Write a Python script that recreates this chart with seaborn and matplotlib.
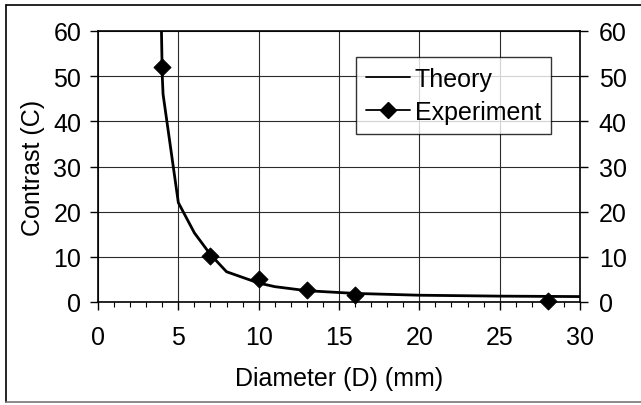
import matplotlib
matplotlib.use("Agg")
import matplotlib.pyplot as plt
from matplotlib.lines import Line2D
import seaborn as sns
import pandas as pd

theory_d = [3.95, 4.0, 4.05, 5.0, 6.0, 7.0, 8.0, 10.0, 11.0, 13.0, 16.0, 20.0, 25.0, 30.0]
theory_c = [60.0, 50.0, 46.0, 22.0, 15.3, 10.5, 6.7, 4.2, 3.4, 2.5, 1.9, 1.5, 1.3, 1.2]
exp_d = [4, 7, 10, 13, 16, 28]
exp_c = [52.0, 10.1, 5.2, 2.7, 1.5, 0.3]
x_ticks = [0, 5, 10, 15, 20, 25, 30]
y_ticks = [0, 10, 20, 30, 40, 50, 60]

sns.set_theme(style="white")
plt.rcParams['font.family'] = ['Liberation Sans', 'DejaVu Sans']
plt.rcParams['text.color'] = 'black'
plt.rcParams['axes.labelcolor'] = 'black'
plt.rcParams['xtick.color'] = 'black'
plt.rcParams['ytick.color'] = 'black'

W, H = 641, 406
fig = plt.figure(figsize=(W / 100, H / 100), dpi=100)
ax = fig.add_axes([98 / W, 103 / H, 482 / W, 271 / H])

theory = pd.DataFrame({"D": theory_d, "C": theory_c})
exp = pd.DataFrame({"D": exp_d, "C": exp_c})

sns.lineplot(data=theory, x="D", y="C", ax=ax, color="black", lw=2.0, sort=False,
             estimator=None, zorder=3)
sns.scatterplot(data=exp, x="D", y="C", ax=ax, color="black", marker="D", s=75,
                edgecolor="black", zorder=4, clip_on=False)

ax.set_xlim(0, 30)
ax.set_ylim(0, 60)
ax.set_xticks(x_ticks)
ax.set_yticks(y_ticks)
ax.set_xticks(range(0, 31), minor=True)
ax.grid(True, which="major", color="#2a2a2a", lw=0.8)
for s in ax.spines.values():
    s.set_color("black")
    s.set_linewidth(1.2)
ax.tick_params(axis="both", which="major", direction="out", length=5.5, width=1,
               color="black", labelsize=18, bottom=True, left=True)
ax.tick_params(axis="y", which="major", pad=6.5)
ax.tick_params(axis="x", which="major", pad=11)
ax.tick_params(axis="x", which="minor", direction="out", length=3.5, width=0.8,
               color="black", bottom=True)
ax.set_xlabel("Diameter (D) (mm)", fontsize=18, labelpad=12)
ax.set_ylabel("Contrast (C)", fontsize=18, labelpad=6)

ax2 = ax.twinx()
ax2.set_ylim(0, 60)
ax2.set_yticks(y_ticks)
ax2.tick_params(axis="y", direction="out", length=5.5, width=1, color="black",
                labelsize=18, right=True, pad=8)
ax2.grid(False)
for s in ax2.spines.values():
    s.set_visible(False)

handles = [Line2D([], [], color="black", lw=1.3),
           Line2D([], [], color="black", lw=1.3, marker="D", markersize=8)]
leg = ax.legend(handles, ["Theory", "Experiment"], loc="upper right",
                bbox_to_anchor=(0.940, 0.904), fontsize=18, frameon=True,
                fancybox=False, edgecolor="black", handlelength=1.75,
                handletextpad=0.2, borderpad=0.4, labelspacing=0.35,
                borderaxespad=0)
leg.get_frame().set_linewidth(1.0)

# outer frame (the right edge lies just beyond the image)
fx0, fx1 = 6 / W, 1.02
fy0, fy1 = 1 - 403 / H, 1 - 6 / H
fig.add_artist(Line2D([fx0, fx1], [fy1, fy1], transform=fig.transFigure, color="black", lw=1.2))
fig.add_artist(Line2D([fx0, fx0], [fy0, fy1], transform=fig.transFigure, color="black", lw=1.2))
fig.add_artist(Line2D([fx0, fx1], [fy0, fy0], transform=fig.transFigure, color="#777777", lw=1.2))

fig.savefig("out.png", dpi=100)
